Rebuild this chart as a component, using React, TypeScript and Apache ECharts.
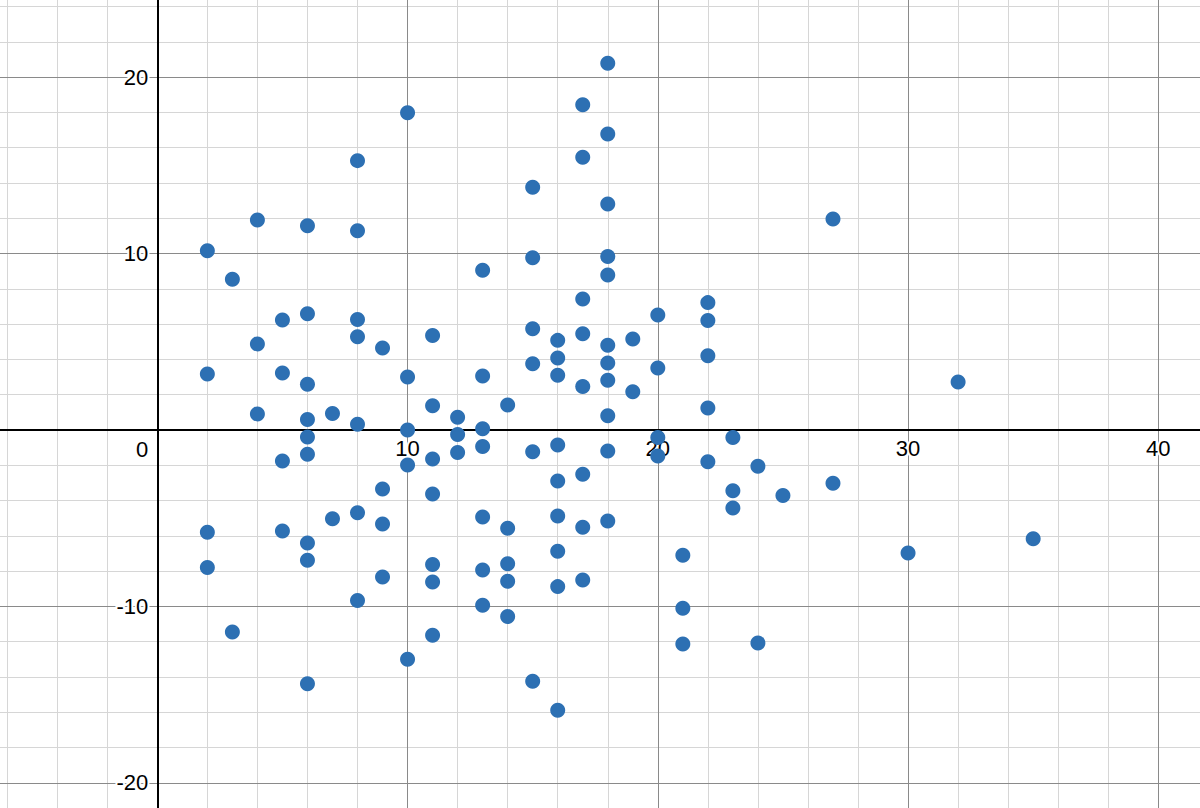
import React, { useEffect, useRef } from "react";
import * as echarts from "echarts";

// Scatter values (x are integers)
const xValues: number[] = [
  2, 2, 2, 2,
  3, 3,
  4, 4, 4,
  5, 5, 5, 5,
  6, 6, 6, 6, 6, 6, 6, 6, 6,
  7, 7,
  8, 8, 8, 8, 8, 8, 8,
  9, 9, 9, 9,
  10, 10, 10, 10, 10,
  11, 11, 11, 11, 11, 11, 11,
  12, 12, 12,
  13, 13, 13, 13, 13, 13, 13,
  14, 14, 14, 14, 14,
  15, 15, 15, 15, 15, 15,
  16, 16, 16, 16, 16, 16, 16, 16, 16,
  17, 17, 17, 17, 17, 17, 17, 17,
  18, 18, 18, 18, 18, 18, 18, 18, 18, 18, 18,
  19, 19,
  20, 20, 20, 20,
  21, 21, 21,
  22, 22, 22, 22, 22,
  23, 23, 23,
  24, 24,
  25,
  27, 27,
  30,
  32,
  35,
];
const yValues: number[] = [
  10.16, 3.17, -5.8, -7.8,
  8.54, -11.45,
  11.9, 4.88, 0.91,
  6.24, 3.23, -1.76, -5.73,
  11.58, 6.59, 2.59, 0.59, -0.4, -1.38, -6.41, -7.39, -14.38,
  0.94, -5.03,
  15.27, 11.3, 6.27, 5.29, 0.32, -4.69, -9.67,
  4.65, -3.34, -5.33, -8.33,
  17.99, 3.0, 0, -1.98, -13.0,
  5.35, 1.38, -1.64, -3.63, -7.63, -8.62, -11.64,
  0.72, -0.26, -1.28,
  9.05, 3.06, 0.07, -0.94, -4.93, -7.94, -9.94,
  1.42, -5.57, -7.58, -8.58, -10.58,
  13.76, 9.77, 5.74, 3.76, -1.23, -14.25,
  5.08, 4.08, 3.1, -0.85, -2.89, -4.88, -6.88, -8.88, -15.89,
  18.44, 15.46, 7.43, 5.46, 2.46, -2.51, -5.52, -8.5,
  20.79, 16.78, 12.81, 9.83, 8.79, 4.8, 3.8, 2.82, 0.81, -1.19, -5.16,
  5.16, 2.17,
  6.52, 3.51, -0.42, -1.47,
  -7.1, -10.11, -12.13,
  7.22, 6.2, 4.21, 1.25, -1.8,
  -0.42, -3.44, -4.42,
  -2.06, -12.07,
  -3.72,
  11.96, -3.02,
  -6.97,
  2.72,
  -6.16,
];

// Tick labels
const xTickLabels: number[] = [10, 20, 30, 40];
const yTickLabels: number[] = [-20, -10, 0, 10, 20];

// Grid lines
const xMajorLines: number[] = [10, 20, 30, 40];
const xMinorLines: number[] = [-6, -4, -2, 2, 4, 6, 8, 12, 14, 16, 18, 22, 24, 26, 28, 32, 34, 36, 38];
const yMajorLines: number[] = [-20, -10, 10, 20];
const yMinorLines: number[] = [-18, -16, -14, -12, -8, -6, -4, -2, 2, 4, 6, 8, 12, 14, 16, 18, 22, 24];

const FONT = "'Liberation Sans', Arial, sans-serif";
const X_MIN = -6.286;
const X_MAX = 41.666;
const Y_MIN = -21.43;
const Y_MAX = 24.376;
const W = 1200;
const H = 808;

export default function App() {
  const ref = useRef<HTMLDivElement>(null);
  useEffect(() => {
    if (!ref.current) return;
    const chart = echarts.init(ref.current, undefined, { renderer: "svg" });
    const minorStyle = { color: "#d6d6d6", width: 1, type: "solid" as const };
    const majorStyle = { color: "#8a8a8a", width: 1, type: "solid" as const };
    const gridLines = [
      ...xMinorLines.map((v) => ({ xAxis: v, lineStyle: minorStyle })),
      ...yMinorLines.map((v) => ({ yAxis: v, lineStyle: minorStyle })),
      ...xMajorLines.map((v) => ({ xAxis: v, lineStyle: majorStyle })),
      ...yMajorLines.map((v) => ({ yAxis: v, lineStyle: majorStyle })),
    ];
    // pixel position of the zero lines, used to place the axes on them
    const zeroY = (Y_MAX / (Y_MAX - Y_MIN)) * H;
    const zeroX = (-X_MIN / (X_MAX - X_MIN)) * W;
    const labelBase = {
      color: "#000",
      fontSize: 22,
      fontFamily: FONT,
      textBorderColor: "#fff",
      textBorderWidth: 4,
    };
    const option: any = {
      animation: false,
      backgroundColor: "#fff",
      grid: { left: 0, right: 0, top: 0, bottom: 0, containLabel: false, outerBoundsMode: "none" },
      xAxis: {
        type: "value",
        position: "bottom",
        offset: -(H - zeroY),
        min: X_MIN,
        max: X_MAX,
        z: 1,
        splitLine: { show: false },
        axisTick: { show: false },
        axisLine: { show: true, onZero: false, lineStyle: { color: "#000", width: 2 } },
        axisLabel: {
          ...labelBase,
          margin: 8,
          customValues: xTickLabels,
          formatter: (v: number) => String(v),
        },
      },
      yAxis: {
        type: "value",
        position: "left",
        offset: -zeroX,
        min: Y_MIN,
        max: Y_MAX,
        z: 1,
        splitLine: { show: false },
        axisTick: { show: false },
        axisLine: { show: true, onZero: false, lineStyle: { color: "#000", width: 2 } },
        axisLabel: {
          ...labelBase,
          margin: 9,
          customValues: yTickLabels,
          formatter: (v: number) => (v === 0 ? "{z|0}" : String(v)),
          rich: {
            z: { ...labelBase, padding: [40, 0, 0, 0] },
          },
        },
      },
      series: [
        {
          type: "scatter",
          z: 0,
          silent: true,
          data: [],
          markLine: {
            z: 0,
            silent: true,
            animation: false,
            symbol: ["none", "none"],
            label: { show: false },
            data: gridLines,
          },
        },
        {
          type: "scatter",
          z: 3,
          symbolSize: 15,
          itemStyle: { color: "#2d70b3", opacity: 1 },
          data: xValues.map((x, i) => [x, yValues[i]]),
        },
      ],
    };
    chart.setOption(option);
    return () => chart.dispose();
  }, []);
  return (
    <div
      ref={ref}
      style={{ position: "fixed", left: 0, top: 0, width: W, height: H }}
    />
  );
}
